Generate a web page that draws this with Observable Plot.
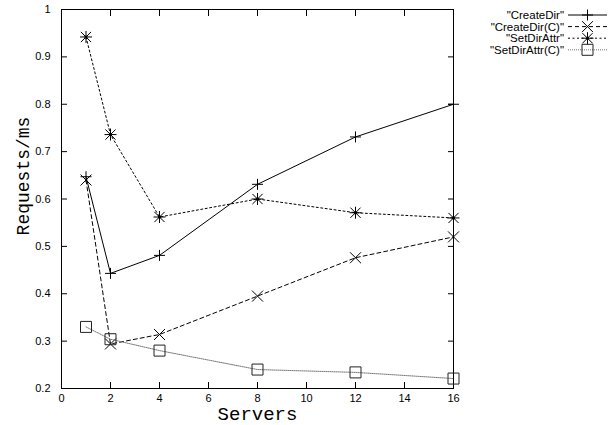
<!DOCTYPE html>
<html><head><meta charset="utf-8">
<script src="https://cdn.jsdelivr.net/npm/d3@7"></script>
<script src="https://cdn.jsdelivr.net/npm/@observablehq/plot@0.6"></script>
<style>body{margin:0;background:#fff;} #chart{position:relative;width:609px;height:425px;}</style>
</head><body><div id="chart"></div>
<script>
// ---- data ----
const servers = [1, 2, 4, 8, 12, 16];
const createDir = [0.647, 0.443, 0.481, 0.631, 0.731, 0.80];
const createDirC = [0.64, 0.294, 0.314, 0.395, 0.476, 0.52];
const setDirAttr = [0.942, 0.736, 0.562, 0.60, 0.571, 0.56];
const setDirAttrC = [0.33, 0.304, 0.28, 0.24, 0.234, 0.221];
const seriesNames = ['"CreateDir"', '"CreateDir(C)"', '"SetDirAttr"', '"SetDirAttr(C)"'];
const xTicks = [0, 2, 4, 6, 8, 10, 12, 14, 16];
const yTicks = [0.2, 0.3, 0.4, 0.5, 0.6, 0.7, 0.8, 0.9, 1];
const xLabel = "Servers";
const yLabel = "Requests/ms";

// ---- symbols (r = half size) ----
const half = size => Math.sqrt(size / Math.PI);
const plusSym = {draw(c, s) { const a = half(s); c.moveTo(-a, 0); c.lineTo(a, 0); c.moveTo(0, -a); c.lineTo(0, a); }};
const timesSym = {draw(c, s) { const a = half(s); c.moveTo(-a, -a); c.lineTo(a, a); c.moveTo(-a, a); c.lineTo(a, -a); }};
const starSym = {draw(c, s) { const a = half(s); c.moveTo(-a, 0); c.lineTo(a, 0); c.moveTo(0, -a); c.lineTo(0, a);
  const b = a * 0.85; c.moveTo(-b, -b); c.lineTo(b, b); c.moveTo(-b, b); c.lineTo(b, -b); }};
const squareSym = {draw(c, s) { const a = half(s); c.moveTo(-a, -a); c.lineTo(a, -a); c.lineTo(a, a); c.lineTo(-a, a); c.closePath(); }};

const seriesValues = [createDir, createDirC, setDirAttr, setDirAttrC];
const styles = [
  {symbol: plusSym, r: 5.5, dash: null, line: "#000", mark: "#000"},
  {symbol: timesSym, r: 5.5, dash: "4,3", line: "#000", mark: "#000"},
  {symbol: starSym, r: 6, dash: "2,2.5", line: "#000", mark: "#000", dot: true},
  {symbol: squareSym, r: 5.5, dash: "1,1", line: "#777", mark: "#222"}
];
const rows = seriesNames.map((name, i) => servers.map((s, j) => ({series: name, x: s, y: seriesValues[i][j]})));

const marks = [
  Plot.frame({stroke: "#000", strokeWidth: 1}),
  Plot.axisX({ticks: xTicks, tickSize: -6, tickPadding: 12, tickFormat: d => String(d), label: null}),
  Plot.axisX({anchor: "top", ticks: xTicks, tickSize: -6, tickFormat: () => "", label: null}),
  Plot.axisY({ticks: yTicks, tickSize: -6, tickPadding: 17, tickFormat: d => String(d), label: null}),
  Plot.axisY({anchor: "right", ticks: yTicks, tickSize: -6, tickFormat: () => "", label: null}),
];
rows.forEach((data, i) => {
  const st = styles[i];
  marks.push(Plot.line(data, {x: "x", y: "y", stroke: st.line, strokeWidth: 1, strokeDasharray: st.dash}));
  marks.push(Plot.dot(data, {x: "x", y: "y", symbol: st.symbol, r: st.r, stroke: st.mark, strokeWidth: 1, fill: "none"}));
  if (st.dot) marks.push(Plot.dot(data, {x: "x", y: "y", r: 1.6, fill: "#000", stroke: "none"}));
});
marks.push(Plot.text([xLabel], {frameAnchor: "bottom", dy: 25.5, text: d => d, textAnchor: "middle", lineAnchor: "middle",
  fontFamily: "Liberation Mono", fontSize: 19, fill: "#000"}));
marks.push(Plot.text([yLabel], {frameAnchor: "left", dx: -38, dy: -23, rotate: -90, text: d => d, textAnchor: "middle", lineAnchor: "middle",
  fontFamily: "Liberation Mono", fontSize: 18, fill: "#000"}));

const chart = Plot.plot({
  width: 609, height: 425,
  marginLeft: 61, marginRight: 156, marginTop: 9, marginBottom: 37,
  x: {domain: [0, 16]},
  y: {domain: [0.2, 1]},
  style: {fontFamily: "Liberation Sans", fontSize: "11px", color: "#000", background: "#fff"},
  marks
});
document.getElementById("chart").appendChild(chart);

// ---- legend ----
const svg = d3.select(chart);
const lg = svg.append("g").attr("font-family", "Liberation Sans").attr("font-size", 11.5);
seriesNames.forEach((name, i) => {
  const st = styles[i];
  const y = 15 + i * 11.6;
  lg.append("text").attr("x", 564).attr("y", y).attr("text-anchor", "end").attr("dy", "0.35em").attr("fill", "#000").text(name);
  lg.append("line").attr("x1", 568).attr("x2", 607).attr("y1", y).attr("y2", y)
    .attr("stroke", st.line).attr("stroke-dasharray", st.dash);
  const p = d3.path(); st.symbol.draw(p, Math.PI * st.r * st.r);
  lg.append("path").attr("d", p.toString()).attr("transform", `translate(587.5,${y})`)
    .attr("fill", "none").attr("stroke", st.mark);
  if (st.dot) lg.append("circle").attr("cx", 587.5).attr("cy", y).attr("r", 1.6).attr("fill", "#000");
});
</script>
</body></html>
